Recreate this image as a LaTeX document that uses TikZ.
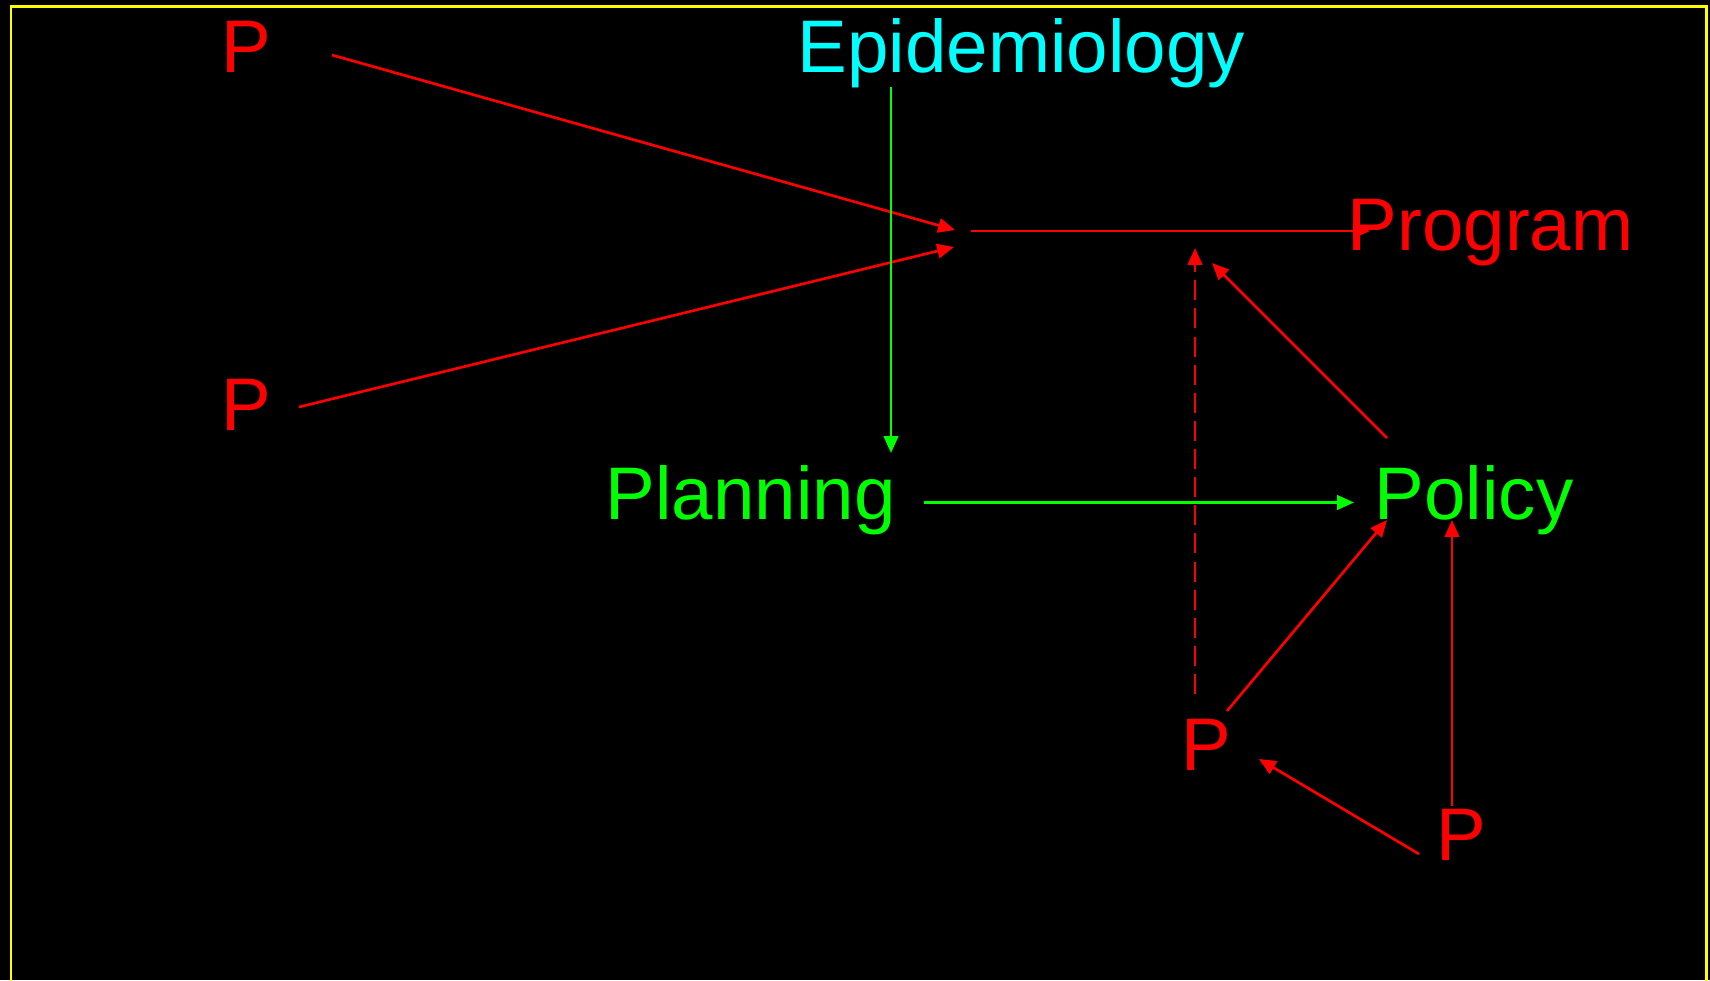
\documentclass[tikz,border=0pt]{standalone}
\usepackage{fontspec}
\setmainfont{Liberation Sans}
\usetikzlibrary{arrows.meta,calc}
\definecolor{pred}{RGB}{255,0,0}
\definecolor{pgreen}{RGB}{0,255,0}
\definecolor{pcyan}{RGB}{0,255,255}
\definecolor{pyellow}{RGB}{255,255,0}

\begin{document}
\begin{tikzpicture}[x=0.1mm,y=-0.1mm,
  txt/.style={anchor=base west,inner sep=0pt,font=\fontsize{21.2}{25}\selectfont},
  link/.style={line width=0.75pt,-{Triangle[length=4.8pt,width=4.1pt]}}]
\useasboundingbox (0,0) rectangle (1710,980);
\fill[black] (0,0) rectangle (1710,980);
\clip (0,0) rectangle (1710,980);
\draw[pyellow,line width=0.75pt] (11,1000)--(11,6.3)--(1706.3,6.3)--(1706.3,1000);

% the words
\node[txt,pred] (P1) at (221,72) {P};
\node[txt,pred] (P2) at (221,430) {P};
\node[txt,pcyan] (epi) at (797,72) {Epidemiology};
\node[txt,pred] (prog) at (1347,250) {Program};
\node[txt,pgreen] (plan) at (605,519) {Planning};
\node[txt,pgreen] (pol) at (1374,519) {Policy};
\node[txt,pred] (P3) at (1181,770) {P};
\node[txt,pred] (P4) at (1436,860) {P};
\coordinate (hub) at (955,230);

% red arrows into the program
\draw[link,pred] ($(P1.base west)+(111,-17)$) -- (hub);
\draw[link,pred] ($(P2.base west)+(78,-23)$) -- ($(hub)+(-1,17)$);
\draw[link,pred] ($(hub)+(16,1)$) -- ($(prog.base west)+(23,-19)$);

% green path
\draw[link,pgreen] ($(epi.base west)+(94,15)$) -- ($(plan.base west)+(286,-66)$);
\draw[link,pgreen] ($(plan.base west)+(319,-16.5)$) -- ($(pol.base west)+(-20,-16.5)$);

% red arrows from the lower P's
\draw[link,pred,dash pattern=on 5.7pt off 2.3pt] ($(P3.base west)+(14,-76)$) -- ++(0,-446);
\draw[link,pred] ($(pol.base west)+(13,-81)$) -- ($(prog.base west)+(-135,13)$);
\draw[link,pred] ($(P3.base west)+(46,-59)$) -- ($(pol.base west)+(13,1)$);
\draw[link,pred] ($(P4.base west)+(16,-54)$) -- ($(pol.base west)+(78,1)$);
\draw[link,pred] ($(P4.base west)+(-17,-6)$) -- ($(P3.base west)+(78,-11)$);
\end{tikzpicture}
\end{document}
